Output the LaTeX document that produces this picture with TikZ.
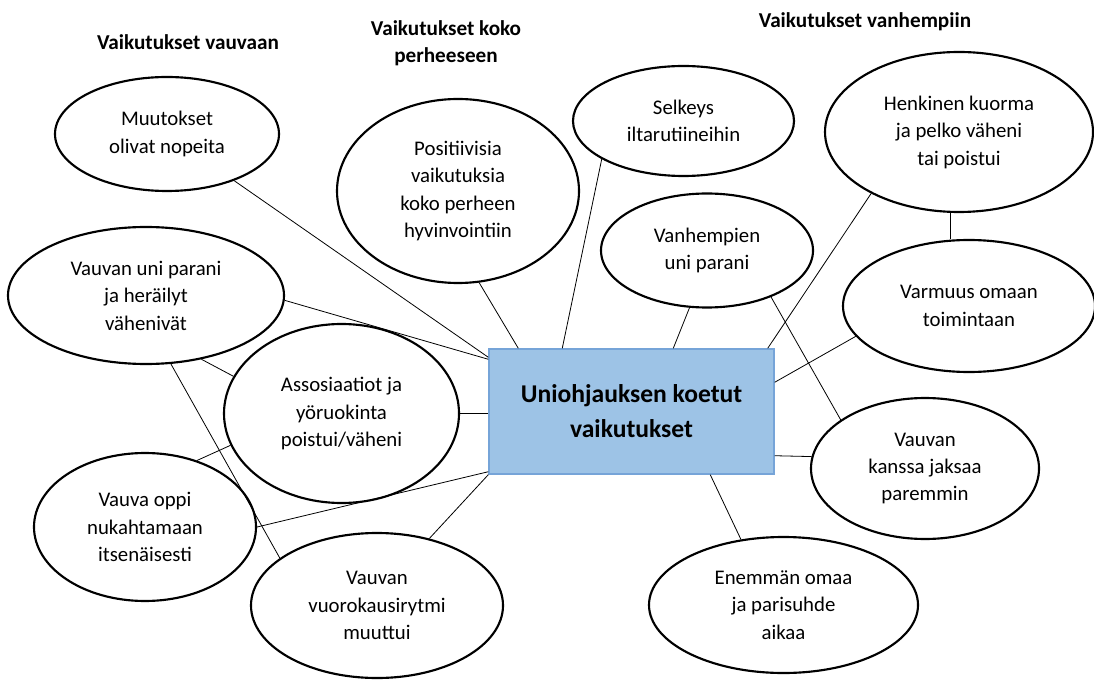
\documentclass[tikz,border=0pt]{standalone}
\usepackage{fontspec}
\setmainfont{Carlito}
\usetikzlibrary{shapes.geometric,calc}

\definecolor{boxfill}{RGB}{157,195,230}
\definecolor{boxline}{RGB}{118,164,216}

\tikzset{
  bubble/.style={ellipse, draw=black, line width=1.6pt, inner sep=0pt,
    align=center, font=\fontsize{15.6}{20.6}\selectfont},
  heading/.style={align=center, font=\bfseries\fontsize{15.9}{20.6}\selectfont},
  centerbox/.style={rectangle, draw=boxline, fill=boxfill, line width=1.1pt,
    align=center, inner sep=0pt, font=\bfseries\fontsize{19.2}{26.2}\selectfont},
  link/.style={draw=black, line width=0.6pt}
}

\begin{document}
\begin{tikzpicture}[x=0.75pt, y=-0.75pt]
  \useasboundingbox (0,0) rectangle (1094,680);

  % group headings
  \node[heading] (h1) at (188,42) {Vaikutukset vauvaan};
  \node[heading] (h2) at (446,43.5) {Vaikutukset koko\\perheeseen};
  \node[heading] (h3) at (865,22) {Vaikutukset vanhempiin};

  % central box
  \node[centerbox, minimum width=213.75pt, minimum height=93.75pt] (c) at (631.5,411.5)
    {Uniohjauksen koetut\\vaikutukset};

  % effects
  \node[bubble, minimum width=168pt, minimum height=85.5pt] (mu) at (167,134)
    {Muutokset\\olivat nopeita};
  \node[bubble, minimum width=181.5pt, minimum height=138pt] (po) at (458,191)
    {Positiivisia\\vaikutuksia\\koko perheen\\hyvinvointiin};
  \node[bubble, minimum width=165.75pt, minimum height=82.5pt] (se) at (683.5,121)
    {Selkeys\\iltarutiineihin};
  \node[bubble, minimum width=201pt, minimum height=120pt] (hk) at (959,132)
    {Henkinen kuorma\\ja pelko väheni\\tai poistui};
  \node[bubble, minimum width=159pt, minimum height=85.5pt] (vh) at (707,250.5)
    {Vanhempien\\uni parani};
  \node[bubble, minimum width=189pt, minimum height=99pt] (vm) at (969,306)
    {Varmuus omaan\\toimintaan};
  \node[bubble, minimum width=207pt, minimum height=102.75pt] (vu) at (146,295.5)
    {Vauvan uni parani\\ja heräilyt\\vähenivät};
  \node[bubble, minimum width=176.25pt, minimum height=134.25pt] (as) at (341.5,413.5)
    {Assosiaatiot ja\\yöruokinta\\poistui/väheni};
  \node[bubble, minimum width=166.5pt, minimum height=111pt] (vo) at (145,527)
    {Vauva oppi\\nukahtamaan\\itsenäisesti};
  \node[bubble, minimum width=189pt, minimum height=108.75pt] (vr) at (377,605.5)
    {Vauvan\\vuorokausirytmi\\muuttui};
  \node[bubble, minimum width=171pt, minimum height=105.75pt] (vk) at (925,468.5)
    {Vauvan\\kanssa jaksaa\\paremmin};
  \node[bubble, minimum width=201.75pt, minimum height=102pt] (en) at (783.5,605)
    {Enemmän omaa\\ja parisuhde\\aikaa};

  % attachment points on the central box
  \coordinate (cA) at ($(c.north west)+(0,9)$);
  \coordinate (cB) at ($(c.north west)+(0,11)$);
  \coordinate (cP) at ($(c.north west)+(30,0)$);
  \coordinate (cS) at ($(c.north west)+(74,0)$);
  \coordinate (cV) at ($(c.north west)+(185,0)$);
  \coordinate (cH) at ($(c.north east)+(-7,0)$);
  \coordinate (cM) at ($(c.north east)+(0,34)$);
  \coordinate (cK) at ($(c.south east)+(0,-19)$);
  \coordinate (cE) at ($(c.south west)+(222,0)$);
  \coordinate (cO) at ($(c.south west)+(0,-3)$);

  % connectors
  \draw[link] (mu) -- (cA);
  \draw[link] (vu.-2) -- (cB);
  \draw[link] (po.-77) -- (cP);
  \draw[link] (se.-155) -- (cS);
  \draw[link] (vh.-107) -- (cV);
  \draw[link] (hk.-145) -- (cH);
  \draw[link] (hk.-96) -- (hk.-96 |- vm.north);
  \draw[link] (vm.-165) -- (cM);
  \draw[link] (vh.-36) -- (vk.150);
  \draw[link] (cK) -- (vk.174);
  \draw[link] (cE) -- (en.123);
  \draw[link] (as.east) -- (as.east -| c.west);
  \draw[link] (cO) -- (vo.east);
  \draw[link] (c.south west) -- (vr.52);
  \draw[link] (vu.-70) -- (vr.154);
  \draw[link] (vu.-49) -- (as.161);
  \draw[link] (as.-164) -- (vo.52);
\end{tikzpicture}
\end{document}
